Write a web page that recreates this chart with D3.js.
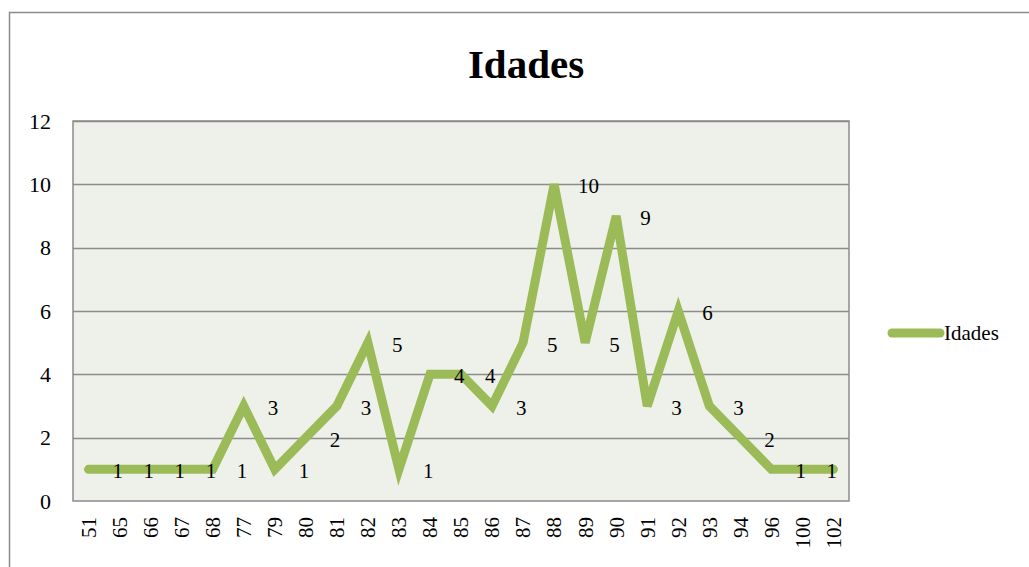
<!DOCTYPE html>
<html><head><meta charset="utf-8">
<script src="https://cdn.jsdelivr.net/npm/d3@7"></script>
<style>body{margin:0;background:#fff}svg{display:block}svg text{font-family:"Liberation Serif","Times New Roman",Times,"DejaVu Serif",serif !important}</style>
</head><body>
<svg id="c" width="1029" height="567"></svg>
<script>
const categories = ["51","65","66","67","68","77","79","80","81","82","83","84","85","86","87","88","89","90","91","92","93","94","96","100","102"];
const values = [1,1,1,1,1,3,1,2,3,5,1,4,4,3,5,10,5,9,3,6,3,2,1,1,1];
const yTicks = [0,2,4,6,8,10,12];
const seriesName = "Idades";
const title = "Idades";

const svg = d3.select("#c");
const m = {left:73, top:121, right:849, bottom:501};
const x = d3.scaleBand().domain(categories).range([m.left, m.right]);
const y = d3.scaleLinear().domain([0,12]).range([m.bottom, m.top]);

svg.append("defs").append("clipPath").attr("id","plotclip").append("rect")
  .attr("x",m.left).attr("y",m.top-20).attr("width",m.right-m.left).attr("height",m.bottom-m.top+20);

// outer frame
svg.append("rect").attr("x",9.5).attr("y",12.5).attr("width",1040).attr("height",600)
  .attr("fill","#fff").attr("stroke","#8c8c8c").attr("stroke-width",1.5);

svg.append("text").attr("x",526).attr("y",78).attr("text-anchor","middle")
  .attr("font-size",41).attr("font-weight","bold").text(title);

svg.append("rect").attr("x",m.left).attr("y",m.top).attr("width",m.right-m.left).attr("height",m.bottom-m.top)
  .attr("fill","#EEF1E9").attr("stroke","#8c8c8c").attr("stroke-width",1.5);

svg.append("g").selectAll("line").data(yTicks.filter(d=>d>0)).join("line")
  .attr("x1",m.left).attr("x2",m.right).attr("y1",d=>Math.round(y(d))+0.5).attr("y2",d=>Math.round(y(d))+0.5)
  .attr("stroke","#8c8c8c").attr("stroke-width",1.5);

const yAxis = svg.append("g").attr("transform",`translate(${m.left},0)`)
  .call(d3.axisLeft(y).tickValues(yTicks).tickSize(0).tickPadding(22));
yAxis.select(".domain").remove();
yAxis.selectAll("text").attr("font-size",22).attr("fill","#000");

const xAxis = svg.append("g").attr("transform",`translate(0,${m.bottom})`)
  .call(d3.axisBottom(x).tickSize(0));
xAxis.select(".domain").remove();
xAxis.selectAll("text").attr("font-size",21).attr("fill","#000")
  .attr("text-anchor","end").attr("dy","0.35em")
  .attr("transform","translate(0,16) rotate(-90)").attr("x",0).attr("y",0);

const line = d3.line().x((d,i)=>x(categories[i])+x.bandwidth()/2).y(d=>y(d));
svg.append("path").datum(values).attr("d",line).attr("fill","none")
  .attr("stroke","#9BBB59").attr("stroke-width",9).attr("stroke-linejoin","miter").attr("stroke-linecap","round");

svg.append("g").attr("clip-path","url(#plotclip)").selectAll("text").data(values).join("text")
  .attr("x",(d,i)=>x(categories[i])+x.bandwidth()/2+24).attr("y",d=>y(d)+9)
  .attr("font-size",21).attr("fill","#000").text(d=>d);

// legend
svg.append("line").attr("x1",892).attr("x2",940).attr("y1",333).attr("y2",333)
  .attr("stroke","#9BBB59").attr("stroke-width",9).attr("stroke-linecap","round");
svg.append("text").attr("x",944).attr("y",340).attr("font-size",21).text(seriesName);
</script>
</body></html>
